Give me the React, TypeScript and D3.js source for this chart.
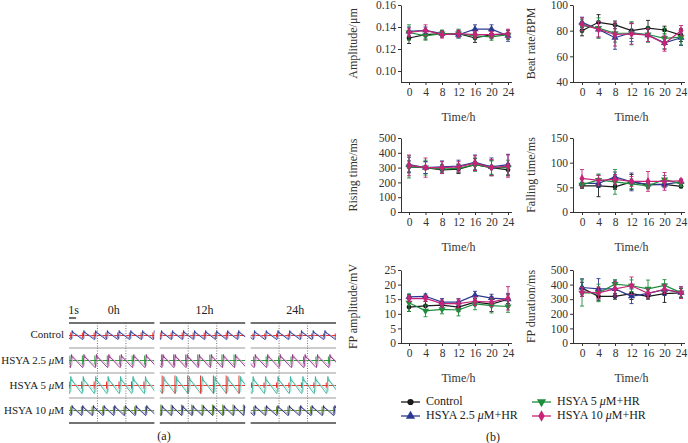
import { useEffect, useRef } from 'react';
import * as d3 from 'd3';

// ---- panel (b) data ----
const hours = [0, 4, 8, 12, 16, 20, 24];
const groupNames = ['Control', 'HSYA 2.5 ', 'HSYA 5 ', 'HSYA 10 '];
const groupColors = ['#1a1a1a', '#2d3990', '#1f8c3b', '#c52479'];

const amplitudeMean = [
  [0.130, 0.133, 0.134, 0.134, 0.130, 0.133, 0.133],
  [0.136, 0.137, 0.134, 0.133, 0.138, 0.138, 0.132],
  [0.135, 0.132, 0.134, 0.134, 0.132, 0.131, 0.133],
  [0.135, 0.137, 0.133, 0.134, 0.133, 0.133, 0.134],
];
const amplitudeErr = [
  [0.005, 0.004, 0.003, 0.003, 0.004, 0.003, 0.004],
  [0.004, 0.003, 0.002, 0.003, 0.004, 0.004, 0.005],
  [0.007, 0.004, 0.003, 0.004, 0.003, 0.003, 0.004],
  [0.004, 0.005, 0.003, 0.003, 0.003, 0.003, 0.004],
];

const beatMean = [
  [80, 86.5, 84.5, 80, 82, 80.5, 76.5],
  [86.5, 81, 74.5, 78.5, 76.5, 70.5, 74.5],
  [84, 82, 78, 78, 77, 74, 75],
  [85, 81, 77, 77.5, 76.5, 70, 80],
];
const beatErr = [
  [4, 6, 3, 6, 6, 3, 5],
  [4, 6, 9, 7, 5, 5, 6],
  [5, 8, 7, 9, 6, 8, 6],
  [5, 6, 9, 8, 5, 6, 4],
];

const risingMean = [
  [305, 300, 285, 290, 320, 300, 285],
  [320, 300, 305, 310, 335, 305, 320],
  [305, 300, 290, 295, 320, 300, 300],
  [315, 300, 300, 305, 330, 300, 310],
];
const risingErr = [
  [40, 40, 25, 30, 40, 50, 40],
  [50, 40, 40, 40, 50, 60, 70],
  [75, 50, 30, 30, 45, 45, 50],
  [70, 65, 40, 35, 50, 55, 75],
];

const fallingMean = [
  [53, 53, 51, 61, 55, 56, 52],
  [58, 58, 71, 61, 56, 56, 61],
  [55, 65, 61, 57, 53, 66, 57],
  [68, 64, 66, 62, 62, 62, 63],
];
const fallingErr = [
  [5, 22, 5, 15, 6, 5, 3],
  [8, 8, 10, 18, 8, 7, 5],
  [5, 12, 25, 10, 6, 8, 5],
  [18, 10, 10, 10, 20, 18, 4],
];

const fpAmpMean = [
  [12.3, 12.7, 13, 12.3, 14, 13.3, 15],
  [15.8, 16, 14, 14, 16.4, 15.4, 15],
  [13.8, 11, 11.5, 11.3, 13.4, 12.8, 12.5],
  [15.2, 15.3, 13.5, 13.5, 14.3, 14, 15.3],
];
const fpAmpErr = [
  [1.5, 1.5, 1.2, 1.5, 1.2, 2.5, 1.5],
  [0.8, 0.8, 1.2, 1.2, 1.3, 1.3, 2],
  [3, 2, 1.5, 2, 2, 2.5, 2],
  [1, 1, 1.2, 1.5, 1.5, 1.5, 4],
];

const fpDurMean = [
  [376, 320, 320, 338, 320, 338, 343],
  [380, 371, 371, 320, 340, 365, 345],
  [343, 343, 403, 392, 371, 394, 345],
  [350, 343, 371, 392, 340, 368, 345],
];
const fpDurErr = [
  [40, 30, 20, 40, 20, 60, 30],
  [60, 70, 60, 50, 30, 40, 40],
  [90, 60, 30, 40, 60, 40, 30],
  [30, 40, 50, 60, 30, 30, 40],
];

const chartLabels = ['Amplitude/μm', 'Beat rate/BPM', 'Rising time/ms', 'Falling time/ms', 'FP amplitude/mV', 'FP duration/ms'];
const chartMeans = [amplitudeMean, beatMean, risingMean, fallingMean, fpAmpMean, fpDurMean];
const chartErrs = [amplitudeErr, beatErr, risingErr, fallingErr, fpAmpErr, fpDurErr];
const chartDomains = [[0.09, 0.16], [40, 100], [0, 500], [0, 150], [0, 25], [0, 500]];
const chartTicks = [
  [0.1, 0.12, 0.14, 0.16],
  [40, 60, 80, 100],
  [0, 100, 200, 300, 400, 500],
  [0, 50, 100, 150],
  [0, 5, 10, 15, 20, 25],
  [0, 100, 200, 300, 400, 500],
];

// ---- panel (a) data ----
const traceRows = ['Control', 'HSYA 2.5 ', 'HSYA 5 ', 'HSYA 10 '];
const traceCols = ['0h', '12h', '24h'];
const panelSeconds = 12;
const beatPeriod = [
  [1.65, 1.55, 1.65],
  [1.75, 1.7, 1.75],
  [1.75, 1.8, 1.75],
  [1.5, 1.45, 1.6],
];
const beatPhase = [
  [0.3, 0.1, 0.4],
  [0.2, 0.3, 0.5],
  [0.1, 0.4, 0.2],
  [0.3, 0.2, 0.5],
];
const waveUp = [5, 6, 9, 5];
const waveDown = [4, 7, 8, 5];
const spikeSize = [
  [3, 3, 2],
  [5, 6, 4],
  [4, 10, 3],
  [4, 6, 4],
];
// one beat of the impedance trace: [phase, level]
const beatShape = [
  [0, -1],
  [0.04, -0.3],
  [0.09, 1],
  [0.13, 0.5],
  [0.17, 0.6],
  [0.97, -1],
];
const waveColors = ['#2c3a8c', '#8a2f7e', '#36b09c', '#25286e'];
const waveLight = ['#b3b3e2', '#e2b4dc', '#b4e4d9', '#b4b6dc'];
const baseColors = ['#e8332e', '#2e9a3e', '#e8332e', '#5f8f2a'];

const FONT = '"Liberation Serif", "DejaVu Serif", serif';

const App = (): JSX.Element => {
  const svgRef = useRef<SVGSVGElement>(null);

  useEffect(() => {
    if (!svgRef.current) return;
    svgRef.current.innerHTML = '';
    const svg = d3.select(svgRef.current);

    // layout of the six small charts
    const colLayout = [
      { axis: 401, x0: 409, x24: 508, label: 354 },
      { axis: 573, x0: 582, x24: 681, label: 532 },
    ];
    const rowLayout = [
      { top: 5, bottom: 82 },
      { top: 138, bottom: 212 },
      { top: 270, bottom: 343 },
    ];

    chartLabels.forEach((label, ci) => {
      const cl = colLayout[ci % 2];
      const rl = rowLayout[Math.floor(ci / 2)];
      const x = d3.scaleLinear([0, 24], [cl.x0, cl.x24]);
      const y = d3.scaleLinear(chartDomains[ci], [rl.bottom, rl.top]);
      const g = svg.append('g');

      // y axis
      const yAxis = g
        .append('g')
        .attr('transform', `translate(${cl.axis},0)`)
        .call(
          d3
            .axisLeft(y)
            .tickValues(chartTicks[ci])
            .tickSize(3)
            .tickSizeOuter(0)
            .tickFormat(ci === 0 ? d3.format('.2f') : d3.format('d'))
        );
      yAxis.attr('font-family', FONT).attr('font-size', 11.5);
      yAxis.selectAll('text').attr('fill', '#333').attr('x', -5);
      yAxis.selectAll('line,path').attr('stroke', '#333');

      // x axis
      const xAxis = g
        .append('g')
        .attr('transform', `translate(0,${rl.bottom})`)
        .call(d3.axisBottom(x).tickValues(hours).tickSize(3).tickSizeOuter(0));
      xAxis.select('.domain').remove();
      xAxis.attr('font-family', FONT).attr('font-size', 11.5);
      xAxis.selectAll('text').attr('fill', '#333').attr('y', 6);
      xAxis.selectAll('line').attr('stroke', '#333');
      g.append('line')
        .attr('x1', cl.axis)
        .attr('x2', cl.x24 + 4)
        .attr('y1', rl.bottom + 0.5)
        .attr('y2', rl.bottom + 0.5)
        .attr('stroke', '#333');

      // titles
      g.append('text')
        .attr('x', (cl.x0 + cl.x24) / 2)
        .attr('y', rl.bottom + 39)
        .attr('text-anchor', 'middle')
        .attr('font-family', FONT)
        .attr('font-size', 12)
        .attr('fill', '#333')
        .text('Time/h');
      g.append('text')
        .attr('transform', `translate(${cl.label},${(rl.top + rl.bottom) / 2}) rotate(-90)`)
        .attr('text-anchor', 'middle')
        .attr('dominant-baseline', 'middle')
        .attr('font-family', FONT)
        .attr('font-size', 12)
        .attr('fill', '#333')
        .text(label);

      // series
      const line = d3
        .line<number>()
        .x((_, i) => x(hours[i]))
        .y((d) => y(d));
      chartMeans[ci].forEach((vals, si) => {
        const color = groupColors[si];
        const sg = g.append('g');
        sg.append('path')
          .attr('d', line(vals))
          .attr('fill', 'none')
          .attr('stroke', color)
          .attr('stroke-width', 1.2);
        vals.forEach((v, i) => {
          const e = chartErrs[ci][si][i];
          const cx = x(hours[i]);
          sg.append('line')
            .attr('x1', cx)
            .attr('x2', cx)
            .attr('y1', y(v - e))
            .attr('y2', y(v + e))
            .attr('stroke', color)
            .attr('stroke-width', 0.9);
          [v - e, v + e].forEach((w) => {
            sg.append('line')
              .attr('x1', cx - 2)
              .attr('x2', cx + 2)
              .attr('y1', y(w))
              .attr('y2', y(w))
              .attr('stroke', color)
              .attr('stroke-width', 0.9);
          });
        });
        vals.forEach((v, i) => {
          drawMarker(sg, si, x(hours[i]), y(v), 1);
        });
      });
    });

    // legend
    const legendCols = [{ x: 401 }, { x: 532 }];
    const legendRows = [402, 416];
    const legendOrder = [0, 2, 1, 3];
    legendOrder.forEach((si, k) => {
      const lx = legendCols[k % 2].x;
      const ly = legendRows[Math.floor(k / 2)];
      const lg = svg.append('g');
      lg.append('line')
        .attr('x1', lx)
        .attr('x2', lx + 19)
        .attr('y1', ly)
        .attr('y2', ly)
        .attr('stroke', groupColors[si])
        .attr('stroke-width', 1.3);
      drawMarker(lg, si, lx + 9.5, ly, 1.3);
      const t = lg
        .append('text')
        .attr('x', lx + 25)
        .attr('y', ly)
        .attr('dominant-baseline', 'middle')
        .attr('font-family', FONT)
        .attr('font-size', 12)
        .attr('fill', '#222');
      if (si === 0) {
        t.text(groupNames[si]);
      } else {
        t.append('tspan').text(groupNames[si]);
        t.append('tspan').attr('font-style', 'italic').text('μ');
        t.append('tspan').text('M+HR');
      }
    });
    svg.append('text')
      .attr('x', 493)
      .attr('y', 438)
      .attr('text-anchor', 'middle')
      .attr('dominant-baseline', 'middle')
      .attr('font-family', FONT)
      .attr('font-size', 12)
      .attr('fill', '#222')
      .text('(b)');

    // ---- panel (a): trace thumbnails ----
    const colBand = d3.scaleBand(traceCols, [69, 336]).paddingInner(0.06);
    const rowBand = d3.scaleBand(traceRows, [323, 423]);
    const bw = colBand.bandwidth();
    const rh = rowBand.bandwidth();
    const defs = svg.append('defs');

    traceCols.forEach((c, cIdx) => {
      const x0 = colBand(c) as number;
      const tx = d3.scaleLinear([0, panelSeconds], [x0, x0 + bw]);
      const pg = svg.append('g');

      traceRows.forEach((r, rIdx) => {
        const top = rowBand(r) as number;
        const mid = top + rh / 2;
        const clipId = `clip-${cIdx}-${rIdx}`;
        defs
          .append('clipPath')
          .attr('id', clipId)
          .append('rect')
          .attr('x', x0)
          .attr('y', top + 1)
          .attr('width', bw)
          .attr('height', rh - 2);
        const cg = pg.append('g').attr('clip-path', `url(#${clipId})`);
        const period = beatPeriod[rIdx][cIdx];
        const phase = beatPhase[rIdx][cIdx];
        const starts = d3.range(phase - period, panelSeconds + period, period);

        const wave = (shift: number, scale: number) => {
          const pts: [number, number][] = [];
          starts.forEach((s) => {
            beatShape.forEach(([f, v]) => {
              const amp = v > 0 ? waveUp[rIdx] : waveDown[rIdx];
              pts.push([tx(s + shift + f * period), mid - v * amp * scale]);
            });
          });
          return d3.line()(pts);
        };

        cg.append('line')
          .attr('x1', x0)
          .attr('x2', x0 + bw)
          .attr('y1', mid)
          .attr('y2', mid)
          .attr('stroke', baseColors[rIdx])
          .attr('stroke-width', 1.1);
        cg.append('path')
          .attr('d', wave(0.1 * period, 0.8))
          .attr('fill', 'none')
          .attr('stroke', waveLight[rIdx])
          .attr('stroke-width', 1);
        cg.append('path')
          .attr('d', wave(0, 1))
          .attr('fill', 'none')
          .attr('stroke', waveColors[rIdx])
          .attr('stroke-width', 0.9);
        starts.forEach((s) => {
          const sx = tx(s - 0.04 * period);
          const sz = spikeSize[rIdx][cIdx];
          cg.append('line')
            .attr('x1', sx)
            .attr('x2', sx)
            .attr('y1', mid - sz)
            .attr('y2', mid + sz * 0.8)
            .attr('stroke', baseColors[rIdx])
            .attr('stroke-width', 1);
        });
      });

      // dotted dividers
      [1 / 3, 2 / 3].forEach((f) => {
        pg.append('line')
          .attr('x1', x0 + bw * f)
          .attr('x2', x0 + bw * f)
          .attr('y1', 323)
          .attr('y2', 423)
          .attr('stroke', '#777')
          .attr('stroke-dasharray', '1,1.5');
      });
      // horizontal rules
      traceRows.forEach((r, rIdx) => {
        if (rIdx === 0) return;
        pg.append('line')
          .attr('x1', x0)
          .attr('x2', x0 + bw)
          .attr('y1', rowBand(r) as number)
          .attr('y2', rowBand(r) as number)
          .attr('stroke', '#999')
          .attr('stroke-width', 1);
      });
      [323, 423].forEach((yy) => {
        pg.append('line')
          .attr('x1', x0)
          .attr('x2', x0 + bw)
          .attr('y1', yy)
          .attr('y2', yy)
          .attr('stroke', '#444')
          .attr('stroke-width', 1.4);
      });
      pg.append('text')
        .attr('x', x0 + bw / 2 + 2)
        .attr('y', 311)
        .attr('text-anchor', 'middle')
        .attr('dominant-baseline', 'middle')
        .attr('font-family', FONT)
        .attr('font-size', 12)
        .attr('fill', '#222')
        .text(c);

      if (cIdx === 0) {
        svg.append('text')
          .attr('x', (tx(0) + tx(1)) / 2 + 1)
          .attr('y', 311)
          .attr('text-anchor', 'middle')
          .attr('dominant-baseline', 'middle')
          .attr('font-family', FONT)
          .attr('font-size', 12)
          .attr('fill', '#222')
          .text('1s');
        svg.append('line')
          .attr('x1', tx(0))
          .attr('x2', tx(1))
          .attr('y1', 318)
          .attr('y2', 318)
          .attr('stroke', '#222')
          .attr('stroke-width', 1.3);
      }
    });

    traceRows.forEach((r) => {
      const t = svg
        .append('text')
        .attr('x', 64)
        .attr('y', (rowBand(r) as number) + rh / 2)
        .attr('text-anchor', 'end')
        .attr('dominant-baseline', 'middle')
        .attr('font-family', FONT)
        .attr('font-size', 11)
        .attr('fill', '#222');
      if (r === 'Control') {
        t.text(r);
      } else {
        t.append('tspan').text(r);
        t.append('tspan').attr('font-style', 'italic').text('μ');
        t.append('tspan').text('M');
      }
    });
    svg.append('text')
      .attr('x', 164)
      .attr('y', 437)
      .attr('text-anchor', 'middle')
      .attr('dominant-baseline', 'middle')
      .attr('font-family', FONT)
      .attr('font-size', 12)
      .attr('fill', '#222')
      .text('(a)');
  }, []);

  return (
    <svg
      ref={svgRef}
      width={688}
      height={443}
      style={{ position: 'absolute', left: 0, top: 0, background: '#fff' }}
    />
  );
};

function drawMarker(g: any, si: number, cx: number, cy: number, k: number) {
  const color = groupColors[si];
  if (si === 0) {
    g.append('circle').attr('cx', cx).attr('cy', cy).attr('r', 2.4 * k).attr('fill', color);
    return;
  }
  const type = si === 3 ? d3.symbolDiamond : d3.symbolTriangle;
  const size = 22 * k * k;
  g.append('path')
    .attr('d', d3.symbol(type, size)())
    .attr('transform', `translate(${cx},${cy})${si === 2 ? ' rotate(180)' : ''}`)
    .attr('fill', color);
}

export default App;
